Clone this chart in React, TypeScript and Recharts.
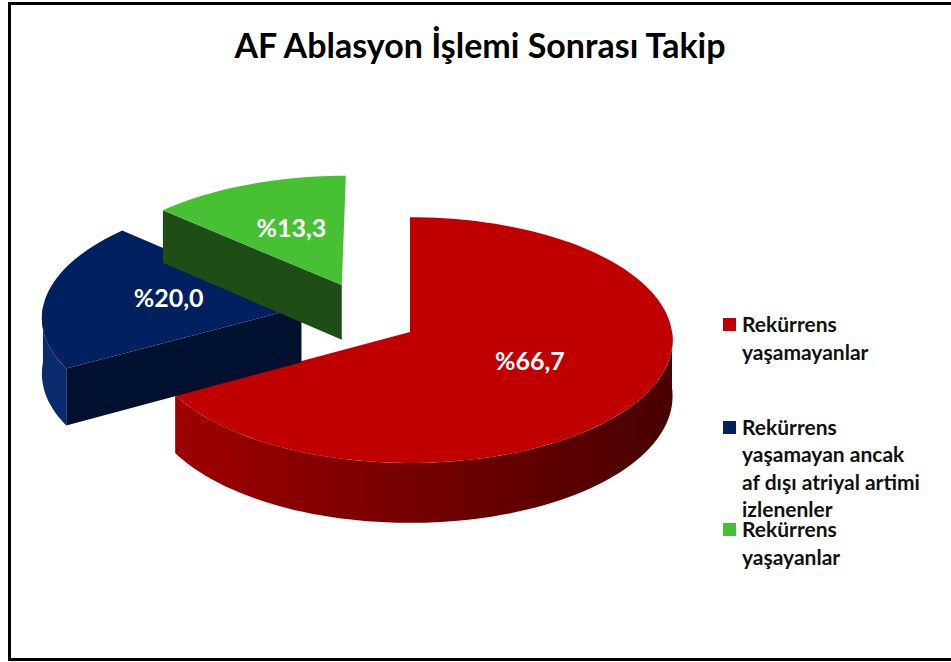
import React from "react";
import { PieChart, Pie, Cell, Legend } from "recharts";

// categories (legend text, with the line breaks used in the original legend)
const categories = [
  "Rekürrens\nyaşamayanlar",
  "Rekürrens\nyaşamayan ancak\naf dışı atriyal artimi\nizlenenler",
  "Rekürrens\nyaşayanlar",
];
const percentages = [66.7, 20.0, 13.3];
const valueLabels = ["%66,7", "%20,0", "%13,3"];

const topColors = ["#C00000", "#002060", "#47C133"];
const wallColors = [
  ["#A30000", "#480000"],
  ["#0A2B70", "#001540"],
  ["#2A6A1E", "#173F10"],
];
const faceColors = ["#7A0000", "#00112F", "#1E4E16"];
// pull-out of the slices, in disc units (x to the right, z to the back)
const explode = [
  [0, 0],
  [-110, 54],
  [-70, 103],
];

const TILT = 0.467;
const PERSP = 4000;
const DEPTH = 56;
const RAD = Math.PI / 180;
const FONT = "Lato, 'Open Sans', sans-serif";

const data = categories.map((name, i) => ({ name, value: percentages[i] }));

// disc point (X, Z) at height h below the top face -> screen
const proj = (cx: number, cy: number, X: number, Z: number, h: number) => {
  const s = PERSP / (PERSP + Z);
  return [cx + X * s, cy - Z * TILT * s + h * s];
};

const rimPts = (cx: number, cy: number, ox: number, oz: number, r: number, from: number, to: number, h: number) => {
  const n = Math.max(4, Math.ceil(Math.abs(to - from) / 2));
  const out: number[][] = [];
  for (let k = 0; k <= n; k++) {
    const a = (from + ((to - from) * k) / n) * RAD;
    out.push(proj(cx, cy, ox + r * Math.cos(a), oz + r * Math.sin(a), h));
  }
  return out;
};

const toPath = (pts: number[][]) =>
  pts.map((p, k) => `${k === 0 ? "M" : "L"}${p[0].toFixed(2)},${p[1].toFixed(2)}`).join(" ") + " Z";

function Slice3D(props: any) {
  const { cx, cy, outerRadius, startAngle, endAngle } = props;
  const name = props.name ?? props.payload?.name;
  const idx = Math.max(0, categories.indexOf(name));
  const [ox, oz] = explode[idx];
  const r = outerRadius;
  const lo = Math.min(startAngle, endAngle);
  const hi = Math.max(startAngle, endAngle);

  // front part of the outer wall
  const walls: React.ReactNode[] = [];
  for (let k = -2; k <= 1; k++) {
    const s = Math.max(lo, -180 + 360 * k);
    const e = Math.min(hi, 360 * k);
    if (e > s) {
      const top = rimPts(cx, cy, ox, oz, r, s, e, 0);
      const bottom = rimPts(cx, cy, ox, oz, r, e, s, DEPTH);
      walls.push(<path key={`w${k}`} d={toPath([...top, ...bottom])} fill={`url(#wall${idx})`} />);
    }
  }

  // cut faces that turn toward the viewer
  const faces: React.ReactNode[] = [];
  [
    [hi, hi + 90],
    [lo, lo - 90],
  ].forEach(([a, normal], k) => {
    if (Math.sin(normal * RAD) < -0.01) {
      const rx = ox + r * Math.cos(a * RAD);
      const rz = oz + r * Math.sin(a * RAD);
      faces.push(
        <path
          key={`f${k}`}
          d={toPath([
            proj(cx, cy, ox, oz, 0),
            proj(cx, cy, rx, rz, 0),
            proj(cx, cy, rx, rz, DEPTH),
            proj(cx, cy, ox, oz, DEPTH),
          ])}
          fill={faceColors[idx]}
        />
      );
    }
  });

  const topFace = toPath([proj(cx, cy, ox, oz, 0), ...rimPts(cx, cy, ox, oz, r, startAngle, endAngle, 0)]);
  const gx1 = proj(cx, cy, ox - r, oz, 0)[0];
  const gx2 = proj(cx, cy, ox + r, oz, 0)[0];

  return (
    <g>
      <defs>
        <linearGradient id={`wall${idx}`} gradientUnits="userSpaceOnUse" x1={gx1} y1={0} x2={gx2} y2={0}>
          <stop offset="0%" stopColor={wallColors[idx][0]} />
          <stop offset="100%" stopColor={wallColors[idx][1]} />
        </linearGradient>
      </defs>
      {faces}
      {walls}
      <path d={topFace} fill={topColors[idx]} />
    </g>
  );
}

const renderLabel = (props: any) => {
  const { cx, cy, midAngle, outerRadius, index } = props;
  const idx = index ?? 0;
  const f = 0.52;
  const [ox, oz] = explode[idx];
  const [x, y] = proj(
    cx,
    cy,
    ox + f * outerRadius * Math.cos(midAngle * RAD),
    oz + f * outerRadius * Math.sin(midAngle * RAD),
    0
  );
  return (
    <text
      x={x}
      y={y - 4}
      fill="#FFFFFF"
      textAnchor="middle"
      dominantBaseline="central"
      style={{ fontFamily: FONT, fontWeight: 700, fontSize: 25 }}
    >
      {valueLabels[idx]}
    </text>
  );
};

const renderLegend = (props: any) => {
  const items = [...(props.payload || [])].sort(
    (a: any, b: any) => categories.indexOf(a.value) - categories.indexOf(b.value)
  );
  return (
    <div>
      {items.map((entry: any, i: number) => (
        <div key={i} style={{ position: "relative", height: 102.5 }}>
          <div
            style={{
              position: "absolute",
              left: 1,
              top: 8,
              width: 13,
              height: 13,
              background: entry.color,
            }}
          />
          <div
            style={{
              position: "absolute",
              left: 20,
              top: 0,
              whiteSpace: "pre",
              fontFamily: FONT,
              fontWeight: 700,
              fontSize: 21,
              lineHeight: "27.5px",
              color: "#111111",
            }}
          >
            {entry.value}
          </div>
        </div>
      ))}
    </div>
  );
};

export default function App() {
  return (
    <div style={{ position: "absolute", left: 0, top: 0, width: 951, height: 662, overflow: "hidden", background: "#FFFFFF" }}>
      <div
        style={{
          position: "absolute",
          left: 8,
          top: 2,
          width: 960,
          height: 653,
          border: "3px solid #000000",
          boxSizing: "content-box",
        }}
      />
      <div
        style={{
          position: "absolute",
          left: 8,
          top: 24,
          width: 944,
          textAlign: "center",
          fontFamily: FONT,
          fontWeight: 700,
          fontSize: 34,
          color: "#000000",
        }}
      >
        AF Ablasyon İşlemi Sonrası Takip
      </div>
      <div style={{ position: "absolute", left: 0, top: 0 }}>
        <PieChart width={951} height={662} margin={{ top: 0, right: 0, bottom: 0, left: 0 }}>
          <Pie
            data={data}
            dataKey="value"
            nameKey="name"
            cx={410}
            cy={332}
            outerRadius={262}
            startAngle={90}
            endAngle={-270}
            stroke="none"
            isAnimationActive={false}
            labelLine={false}
            label={renderLabel}
            shape={Slice3D}
            activeShape={Slice3D}
            inactiveShape={Slice3D}
          >
            {data.map((d, i) => (
              <Cell key={d.name} fill={topColors[i]} />
            ))}
          </Pie>
          <Legend
            layout="vertical"
            content={renderLegend}
            wrapperStyle={{ position: "absolute", left: 722, top: 310, width: 229 }}
          />
        </PieChart>
      </div>
    </div>
  );
}
